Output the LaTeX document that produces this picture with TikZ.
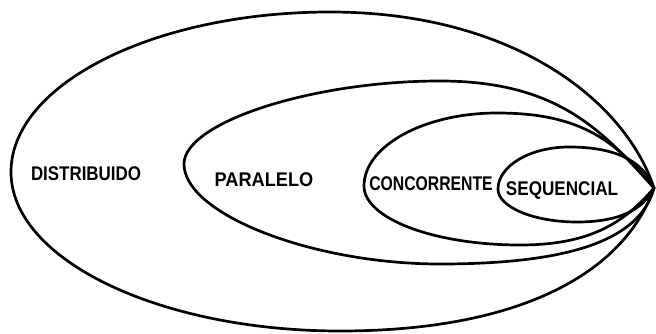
\documentclass[tikz,border=0pt]{standalone}
\usepackage{fontspec}
\setmainfont{Liberation Sans}
\usepackage{graphicx}
\tikzset{
  eggline/.style={line width=2.7pt, line join=round},
  lbl/.style={inner sep=0pt, font=\bfseries\fontsize{18}{20}\selectfont}
}
\begin{document}
\begin{tikzpicture}[x=1pt,y=-1pt]
\useasboundingbox (0,0) rectangle (656,334);
\coordinate (R) at (654,188);
% outer
\draw[eggline] (330,12) .. controls (154.5,12) and (11,84) .. (11,172)
  .. controls (11,259.5) and (159,331) .. (340,331)
  .. controls (520,331) and (624,273) .. (R)
  .. controls (624,98) and (510,12) .. (330,12) -- cycle;
% paralelo
\draw[eggline] (440,81) .. controls (312,81) and (184,122.5) .. (184,164)
  .. controls (184,214) and (312,264) .. (440,264)
  .. controls (570,264) and (640,240) .. (R)
  .. controls (604,133) and (560,81) .. (440,81) -- cycle;
% concorrente
\draw[eggline] (497,113) .. controls (424,113) and (364,146) .. (364,186)
  .. controls (364,218.5) and (434,245) .. (520,245)
  .. controls (590,245) and (624,223) .. (R)
  .. controls (614,138) and (577,113) .. (497,113) -- cycle;
% sequencial
\draw[eggline] (569,147) .. controls (530,147) and (498,166) .. (498,189)
  .. controls (498,207) and (533.5,222) .. (577,222)
  .. controls (622,222) and (644,208) .. (R)
  .. controls (644,163) and (619,147) .. (569,147) -- cycle;
\node[lbl] (dist) at (86,174) {\scalebox{0.94}[1.1]{DISTRIBUIDO}};
\node[lbl] (par) at (264,180) {\scalebox{1.01}[1.1]{PARALELO}};
\node[lbl] (conc) at (431,184) {\scalebox{0.875}[1.1]{CONCORRENTE}};
\node[lbl] (seq) at (562,190.5) {\scalebox{0.95}[1.1]{SEQUENCIAL}};
\end{tikzpicture}
\end{document}
